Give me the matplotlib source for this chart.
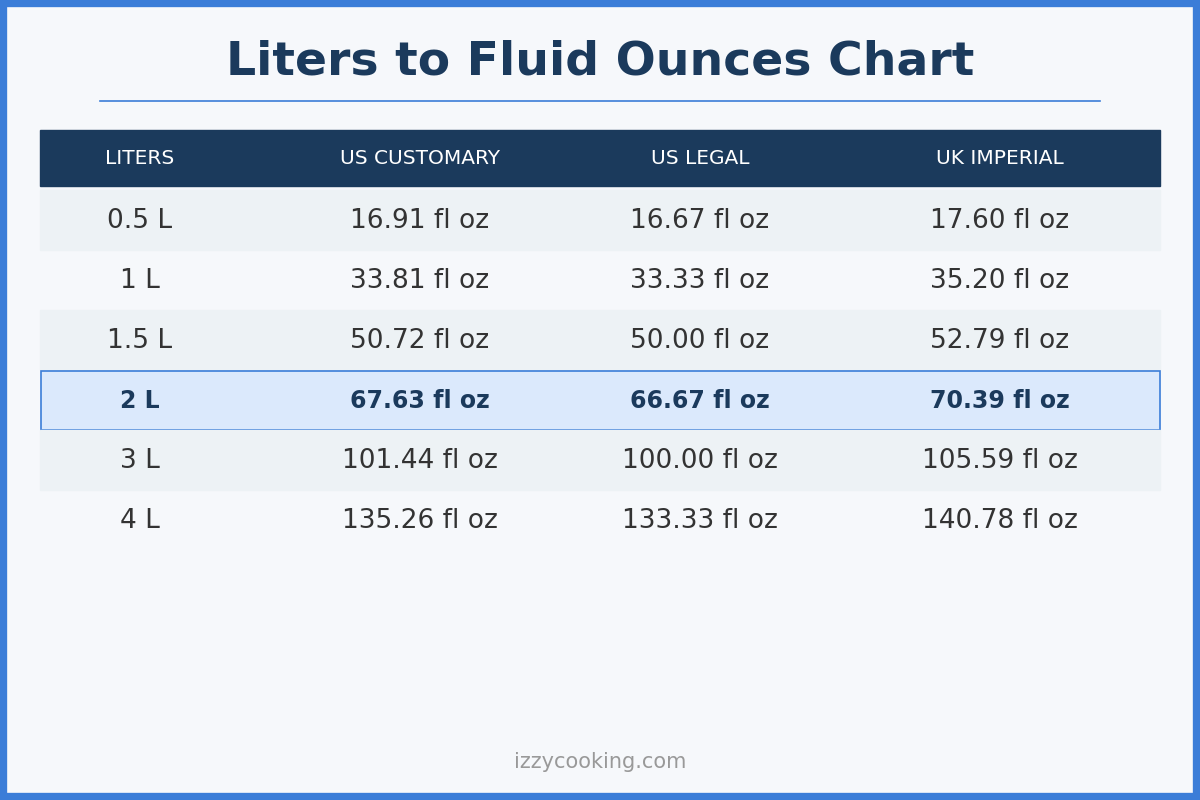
import matplotlib
matplotlib.use("Agg")
import matplotlib.pyplot as plt
from matplotlib.patches import Rectangle

title = "Liters to Fluid Ounces Chart"
headers = ["LITERS", "US CUSTOMARY", "US LEGAL", "UK IMPERIAL"]
liters = ["0.5 L", "1 L", "1.5 L", "2 L", "3 L", "4 L"]
us_customary = [16.91, 33.81, 50.72, 67.63, 101.44, 135.26]
us_legal = [16.67, 33.33, 50.00, 66.67, 100.00, 133.33]
uk_imperial = [17.60, 35.20, 52.79, 70.39, 105.59, 140.78]
highlight_row = 3
footer = "izzycooking.com"

fig = plt.figure(figsize=(12, 8), dpi=100)
fig.patch.set_facecolor("#f6f8fb")
ax = fig.add_axes([0, 0, 1, 1])
ax.set_xlim(0, 1200); ax.set_ylim(800, 0); ax.axis("off")

ax.add_patch(Rectangle((3, 3), 1194, 794, fill=False, ec="#3b7dd8", lw=6))
ax.text(600, 62, title, ha="center", va="center", fontsize=34, fontweight="bold", color="#1b3a5c")
ax.plot([100, 1100], [101, 101], color="#3b7dd8", lw=1.2)

xs = [140, 420, 700, 1000]
ax.add_patch(Rectangle((40, 130), 1120, 56, color="#1b3a5c"))
for x, h in zip(xs, headers):
    ax.text(x, 158, h, ha="center", va="center", fontsize=14.5, color="white")

for i in range(len(liters)):
    y0 = 190 + 60 * i
    yc = y0 + 31
    if i == highlight_row:
        ax.add_patch(Rectangle((40.5, y0 + 0.5), 1119, 59, fc="#dbe9fc", ec="#3b7dd8", lw=1.2))
        kw = dict(fontsize=17, fontweight="bold", color="#1b3a5c")
    else:
        if i % 2 == 0:
            ax.add_patch(Rectangle((40, y0), 1120, 60, color="#edf2f5"))
        kw = dict(fontsize=19, color="#333333")
    vals = [liters[i], f"{us_customary[i]:.2f} fl oz", f"{us_legal[i]:.2f} fl oz", f"{uk_imperial[i]:.2f} fl oz"]
    for x, v in zip(xs, vals):
        ax.text(x, yc, v, ha="center", va="center", **kw)

ax.text(600, 762, footer, ha="center", va="center", fontsize=15, color="#999999")
fig.savefig("out.png", dpi=100, facecolor=fig.get_facecolor())
